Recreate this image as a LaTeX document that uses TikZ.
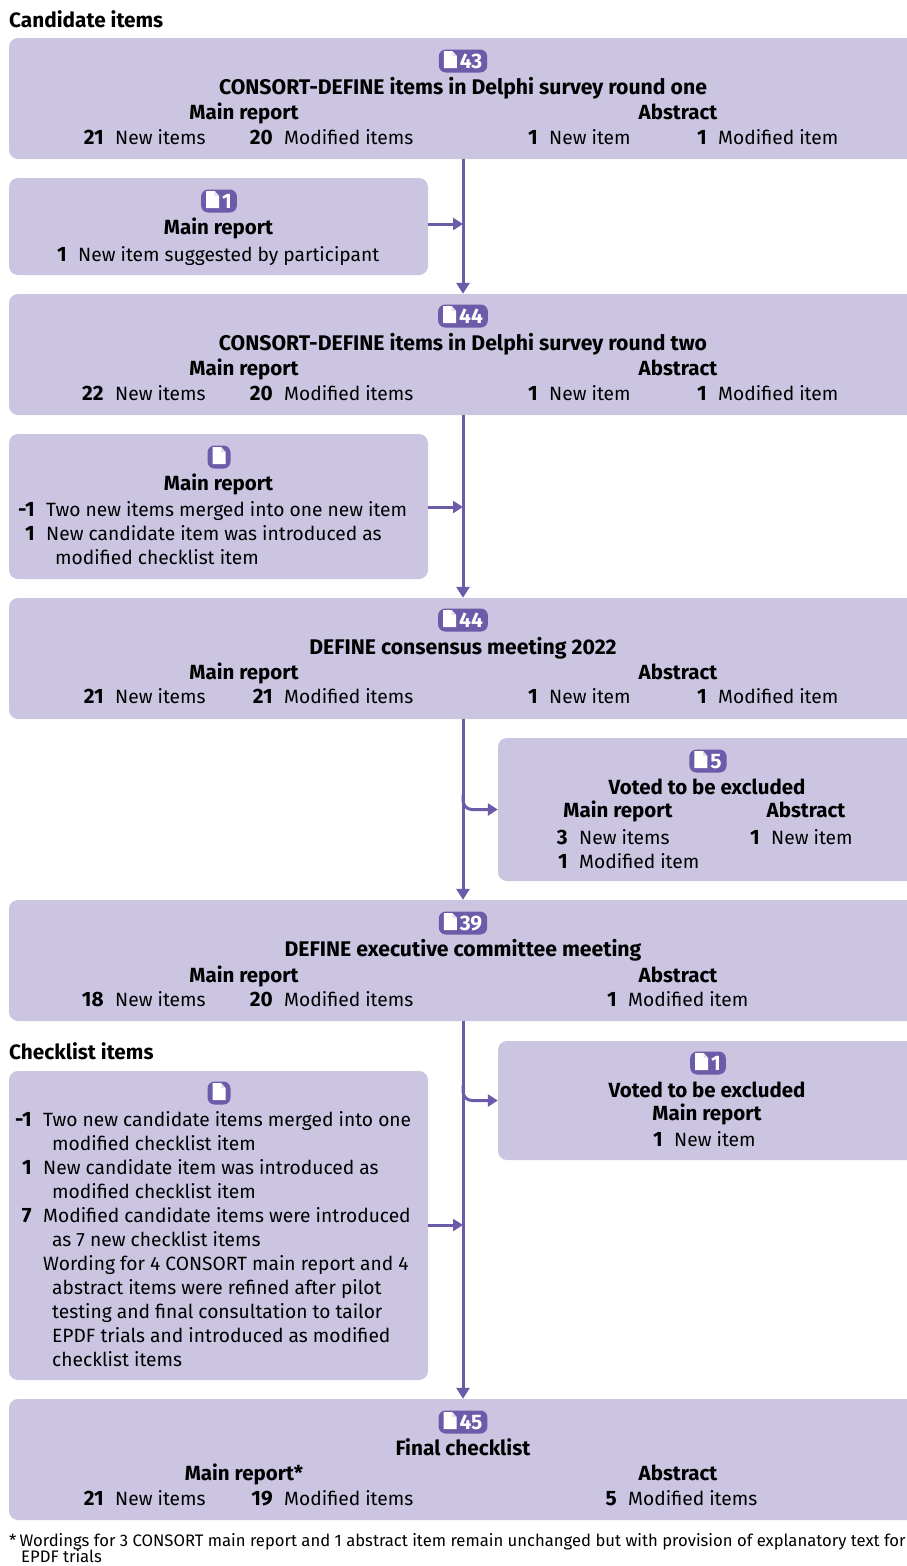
\documentclass[tikz,border=0pt]{standalone}
\usepackage{fontspec}
\setmainfont{Fira Sans}
\usetikzlibrary{arrows.meta}
\definecolor{boxfill}{HTML}{CBC5E2}
\definecolor{flowline}{HTML}{6B5BA8}
\definecolor{foldgray}{HTML}{E2DFEC}
\newcommand{\docicon}{\begin{tikzpicture}[x=1pt,y=1pt,sharp corners]
		\fill[white] (0,-1.5) -- (13,-1.5) -- (13,10.5) -- (8.5,15.5) -- (0,15.5) -- cycle;
		\fill[foldgray] (8.5,15.5) -- (8.5,10.5) -- (13,10.5) -- cycle;
	\end{tikzpicture}}
\newcommand{\cnt}[1]{\llap{{\fontsize{20.8}{24}\selectfont\bfseries #1}\hspace{11.5pt}}}
\tikzset{box style/.style={
		fill=boxfill,
		rounded corners=9pt,
		inner sep=0pt,
	},
	badge style/.style={
		fill=flowline,
		text=white,
		rounded corners=7pt,
		inner xsep=5pt,
		inner ysep=3pt,
		text height=15.5pt,
		text depth=1.5pt,
		font=\fontsize{21}{24}\selectfont\bfseries,
	},
	head style/.style={
		anchor=base,
		inner sep=0pt,
		yshift=-1.4pt,
		font=\fontsize{20.8}{24}\selectfont\bfseries,
	},
	caps style/.style={
		head style,
		font=\fontsize{21.2}{24}\selectfont\bfseries,
	},
	sub style/.style={
		head style,
		font=\fontsize{20.5}{24}\selectfont\bfseries,
	},
	title style/.style={
		anchor=base west,
		inner sep=0pt,
		yshift=-1.4pt,
		font=\fontsize{20.8}{24}\selectfont\bfseries,
	},
	item style/.style={
		anchor=base west,
		inner sep=0pt,
		yshift=-1.2pt,
		font=\fontsize{19.2}{24}\selectfont,
	},
	note style/.style={
		anchor=base west,
		inner sep=0pt,
		font=\fontsize{16.65}{18}\selectfont,
	},
	flow style/.style={
		draw=flowline,
		line width=3pt,
		-{Triangle[length=11pt,width=13pt]},
	},
	side style/.style={
		draw=flowline,
		line width=3pt,
		-{Triangle[length=10pt,width=12pt]},
	}
}
\begin{document}
\begin{tikzpicture}[x=1pt,y=-1pt]
	\path[use as bounding box,clip] (0,0) rectangle (907,1566);

	\node[title style] (CandidateTitle) at (9,26) {Candidate items};

	% round one
	\node[box style,minimum width=908pt,minimum height=121pt] (RoundOne) at (463,98.5) {};
	\node[badge style] (RoundOneBadge) at (463,61) {\docicon\hspace{3pt}43};
	\node[caps style] (RoundOneHead) at (463,93) {CONSORT-DEFINE items in Delphi survey round one};
	\node[sub style] (RoundOneMain) at (244,118) {Main report};
	\node[sub style] (RoundOneAbs) at (678,118) {Abstract};
	\node[item style] (RoundOneA) at (115,143) {\cnt{21}New items};
	\node[item style] (RoundOneB) at (284,143) {\cnt{20}Modified items};
	\node[item style] (RoundOneC) at (549,143) {\cnt{1}New item};
	\node[item style] (RoundOneD) at (718,143) {\cnt{1}Modified item};

	\node[box style,minimum width=419pt,minimum height=97pt] (Suggested) at (218.5,226.5) {};
	\node[badge style] (SuggestedBadge) at (219,201) {\docicon\hspace{3pt}1};
	\node[sub style] (SuggestedMain) at (218.5,233) {Main report};
	\node[item style] (SuggestedA) at (78,260) {\cnt{1}New item suggested by participant};

	% round two
	\node[box style,minimum width=908pt,minimum height=121pt] (RoundTwo) at (463,354.5) {};
	\node[badge style] (RoundTwoBadge) at (463,316) {\docicon\hspace{3pt}44};
	\node[caps style] (RoundTwoHead) at (463,349) {CONSORT-DEFINE items in Delphi survey round two};
	\node[sub style] (RoundTwoMain) at (244,374) {Main report};
	\node[sub style] (RoundTwoAbs) at (678,374) {Abstract};
	\node[item style] (RoundTwoA) at (115,399) {\cnt{22}New items};
	\node[item style] (RoundTwoB) at (284,399) {\cnt{20}Modified items};
	\node[item style] (RoundTwoC) at (549,399) {\cnt{1}New item};
	\node[item style] (RoundTwoD) at (718,399) {\cnt{1}Modified item};

	\node[box style,minimum width=419pt,minimum height=145pt] (Merged) at (218.5,506.5) {};
	\node[badge style] (MergedBadge) at (219,457) {\docicon};
	\node[sub style] (MergedMain) at (218.5,489) {Main report};
	\node[item style] (MergedA) at (46,515) {\cnt{-1}Two new items merged into one new item};
	\node[item style] (MergedB) at (46,539) {\cnt{1}New candidate item was introduced as};
	\node[item style] (MergedC) at (55,563) {modified checklist item};

	% consensus meeting
	\node[box style,minimum width=908pt,minimum height=121pt] (Consensus) at (463,658.5) {};
	\node[badge style] (ConsensusBadge) at (463,620) {\docicon\hspace{3pt}44};
	\node[caps style] (ConsensusHead) at (463,653) {DEFINE consensus meeting 2022};
	\node[sub style] (ConsensusMain) at (244,678) {Main report};
	\node[sub style] (ConsensusAbs) at (678,678) {Abstract};
	\node[item style] (ConsensusA) at (115,702) {\cnt{21}New items};
	\node[item style] (ConsensusB) at (284,702) {\cnt{21}Modified items};
	\node[item style] (ConsensusC) at (549,702) {\cnt{1}New item};
	\node[item style] (ConsensusD) at (718,702) {\cnt{1}Modified item};

	\node[box style,minimum width=419pt,minimum height=143pt] (VotedOne) at (707.5,809.5) {};
	\node[badge style] (VotedOneBadge) at (708,761) {\docicon\hspace{3pt}5};
	\node[sub style] (VotedOneHead) at (707,793) {Voted to be excluded};
	\node[sub style] (VotedOneMain) at (618,816) {Main report};
	\node[sub style] (VotedOneAbs) at (806,816) {Abstract};
	\node[item style] (VotedOneA) at (579,843) {\cnt{3}New items};
	\node[item style] (VotedOneB) at (579,867) {\cnt{1}Modified item};
	\node[item style] (VotedOneC) at (771,843) {\cnt{1}New item};

	% executive committee
	\node[box style,minimum width=908pt,minimum height=121pt] (Executive) at (463,960.5) {};
	\node[badge style] (ExecutiveBadge) at (463,923) {\docicon\hspace{3pt}39};
	\node[caps style] (ExecutiveHead) at (463,955) {DEFINE executive committee meeting};
	\node[sub style] (ExecutiveMain) at (244,981) {Main report};
	\node[sub style] (ExecutiveAbs) at (678,981) {Abstract};
	\node[item style] (ExecutiveA) at (115,1005) {\cnt{18}New items};
	\node[item style] (ExecutiveB) at (284,1005) {\cnt{20}Modified items};
	\node[item style] (ExecutiveC) at (628,1005) {\cnt{1}Modified item};

	\node[title style] (ChecklistTitle) at (9,1058) {Checklist items};

	\node[box style,minimum width=419pt,minimum height=119pt] (VotedTwo) at (707.5,1100.5) {};
	\node[badge style] (VotedTwoBadge) at (708,1063) {\docicon\hspace{3pt}1};
	\node[sub style] (VotedTwoHead) at (707,1096) {Voted to be excluded};
	\node[sub style] (VotedTwoMain) at (707,1119) {Main report};
	\node[item style] (VotedTwoA) at (674,1145) {\cnt{1}New item};

	% changes to checklist
	\node[box style,minimum width=419pt,minimum height=309pt] (Changes) at (218.5,1225.5) {};
	\node[badge style] (ChangesBadge) at (219,1093) {\docicon};
	\node[item style] (ChangesA) at (43,1125) {\cnt{-1}Two new candidate items merged into one};
	\node[item style] (ChangesB) at (52,1149) {modified checklist item};
	\node[item style] (ChangesC) at (43,1173) {\cnt{1}New candidate item was introduced as};
	\node[item style] (ChangesD) at (52,1197) {modified checklist item};
	\node[item style] (ChangesE) at (43,1221) {\cnt{7}Modified candidate items were introduced};
	\node[item style] (ChangesF) at (52,1245) {as 7 new checklist items};
	\node[item style] (ChangesG) at (43,1269) {Wording for 4 CONSORT main report and 4};
	\node[item style] (ChangesH) at (52,1293) {abstract items were refined after pilot};
	\node[item style] (ChangesI) at (52,1317) {testing and final consultation to tailor};
	\node[item style] (ChangesJ) at (52,1341) {EPDF trials and introduced as modified};
	\node[item style] (ChangesK) at (52,1365) {checklist items};

	% final checklist
	\node[box style,minimum width=908pt,minimum height=121pt] (Final) at (463,1459.5) {};
	\node[badge style] (FinalBadge) at (463,1422) {\docicon\hspace{3pt}45};
	\node[head style] (FinalHead) at (463,1454) {Final checklist};
	\node[sub style] (FinalMain) at (244,1479) {Main report*};
	\node[sub style] (FinalAbs) at (678,1479) {Abstract};
	\node[item style] (FinalA) at (115,1504) {\cnt{21}New items};
	\node[item style] (FinalB) at (284,1504) {\cnt{19}Modified items};
	\node[item style] (FinalC) at (628,1504) {\cnt{5}Modified items};

	\node[note style] (NoteA) at (9,1546) {*\hspace{3pt}Wordings for 3 CONSORT main report and 1 abstract item remain unchanged but with provision of explanatory text for};
	\node[note style] (NoteB) at (21,1562.5) {EPDF trials};

	% connectors
	\coordinate (JoinOne) at (463,224);
	\coordinate (JoinTwo) at (463,507);
	\coordinate (JoinThree) at (463,795);
	\coordinate (JoinFour) at (463,1085);
	\coordinate (JoinFive) at (463,1225);
	\draw[flow style] (RoundOne.south) -- (RoundTwo.north);
	\draw[flow style] (RoundTwo.south) -- (Consensus.north);
	\draw[flow style] (Consensus.south) -- (Executive.north);
	\draw[flow style] (Executive.south) -- (Final.north);
	\draw[side style] (Suggested.east |- JoinOne) -- (JoinOne);
	\draw[side style] (Merged.east |- JoinTwo) -- (JoinTwo);
	\draw[side style] (Changes.east |- JoinFive) -- (JoinFive);
	\draw[side style,rounded corners=9pt] (JoinThree) |- (VotedOne.west);
	\draw[side style,rounded corners=9pt] (JoinFour) |- (VotedTwo.west);
\end{tikzpicture}
\end{document}
